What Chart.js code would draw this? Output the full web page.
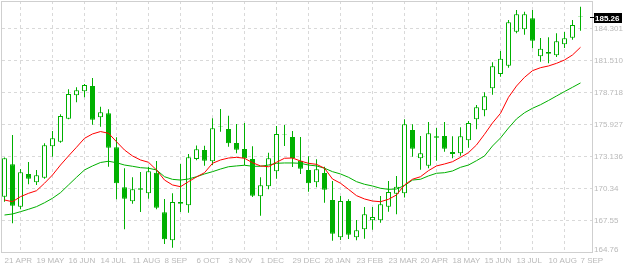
<!DOCTYPE html>
<html><head><meta charset="utf-8">
<script src="https://cdn.jsdelivr.net/npm/chart.js@4/dist/chart.umd.min.js"></script>
<style>html,body{margin:0;padding:0;background:#fff;overflow:hidden}canvas{display:block}</style>
</head><body>
<canvas id="c" width="624" height="266"></canvas>
<script>
// Weekly candles, index 0 = week of 21 APR ... index 72 = week of 7 SEP
const xTickWeeks  = [0,4,8,12,16,20,24,28,32,36,40,44,48,52,56,60,64,68,72];
const xTickLabels = ['21 APR','19 MAY','16 JUN','14 JUL','11 AUG','8 SEP','6 OCT','3 NOV','1 DEC','29 DEC','26 JAN','23 FEB','23 MAR','20 APR','18 MAY','15 JUN','13 JUL','10 AUG','7 SEP'];

const open = [169.59,172.41,168.72,171.57,170.84,171.25,173.98,174.38,176.39,178.43,
  178.78,179.24,176.51,176.86,173.90,170.41,169.19,170.32,169.88,171.68,
  168.23,165.78,169.12,168.84,172.88,173.66,172.68,175.69,175.49,174.27,
  173.75,172.88,169.62,170.50,171.80,174.99,174.80,172.73,171.92,170.84,
  171.65,169.30,166.05,169.21,166.05,166.74,167.53,167.53,168.72,169.85,
  169.88,175.41,172.94,172.29,174.86,174.88,173.49,173.37,174.51,176.34,
  177.12,179.04,180.29,181.01,183.98,184.19,185.15,181.83,182.21,181.92,
  182.88,183.46,185.31];
const high = [173.01,174.97,172.00,172.61,171.92,174.25,175.32,176.78,178.96,179.13,
  179.42,179.94,177.44,177.21,174.77,172.07,171.28,171.74,172.20,172.70,
  169.39,169.88,172.44,173.31,174.05,174.04,176.43,177.24,176.65,175.93,
  176.02,173.98,171.28,173.43,175.76,175.84,175.32,174.80,173.11,172.85,
  172.20,170.96,169.65,169.36,167.56,168.69,168.69,169.65,170.96,171.39,
  176.34,175.90,174.88,176.10,175.58,176.10,174.86,175.64,176.19,177.59,
  178.69,181.31,182.30,185.00,185.87,185.72,185.87,183.43,183.49,183.84,
  183.95,185.00,186.16];
const low = [169.15,167.27,168.49,170.67,170.61,171.16,173.08,174.30,176.34,177.82,
  178.26,175.87,175.69,172.20,169.36,166.74,168.98,168.25,169.41,168.49,
  165.46,165.14,168.25,168.19,172.76,172.29,172.35,175.26,173.95,173.37,
  172.35,169.56,167.93,170.23,171.16,174.01,172.18,171.57,170.02,170.41,
  169.06,165.75,165.81,165.90,165.78,165.92,166.71,167.32,168.28,168.05,
  169.52,173.08,171.94,172.07,172.73,173.51,172.94,173.16,173.86,175.47,
  176.60,178.48,180.05,180.84,183.84,183.72,182.53,181.36,181.22,181.77,
  182.56,183.28,184.07];
const close = [172.94,168.80,171.72,171.16,171.45,174.07,174.68,176.63,178.55,178.87,
  179.33,176.30,176.95,173.86,170.76,169.41,170.23,170.20,171.80,168.63,
  165.87,169.12,168.98,173.02,173.72,172.73,175.55,175.74,174.25,173.69,
  172.94,169.68,170.58,172.94,175.06,175.04,172.96,172.03,170.76,171.98,
  170.20,166.36,169.21,166.27,166.66,168.05,167.82,168.92,170.00,170.46,
  175.90,173.77,173.37,175.12,174.73,173.77,173.31,174.86,176.02,177.39,
  178.35,180.96,181.62,184.80,185.50,185.50,183.19,182.50,182.06,183.14,
  183.40,184.56,185.26];
const maFast = [169.30,169.15,169.59,169.88,170.11,170.76,171.48,172.35,173.14,173.90,
  174.68,175.06,175.27,175.12,174.38,173.66,173.14,172.79,172.59,171.92,
  171.04,170.61,170.46,170.90,171.31,171.68,172.50,172.79,172.96,173.02,
  172.94,172.55,172.27,172.20,172.59,172.94,172.96,172.70,172.50,172.41,
  172.07,171.13,170.76,170.23,169.68,169.39,169.21,169.15,169.36,169.74,
  170.61,171.11,171.33,171.86,172.27,172.44,172.64,173.02,173.43,174.10,
  175.03,176.02,176.86,178.26,179.24,180.00,180.58,180.84,180.99,181.22,
  181.51,181.95,182.62];
const maSlow = [167.99,168.08,168.28,168.49,168.72,169.06,169.45,169.94,170.61,171.28,
  171.92,172.27,172.57,172.68,172.55,172.35,172.24,172.12,172.07,171.92,
  171.33,171.10,171.04,171.13,171.33,171.57,171.77,172.00,172.20,172.27,
  172.33,172.24,172.24,172.35,172.50,172.53,172.53,172.50,172.35,172.27,
  172.07,171.77,171.57,171.28,170.90,170.67,170.52,170.32,170.23,170.26,
  170.56,171.04,171.11,171.40,171.63,171.68,171.83,172.15,172.35,172.73,
  173.14,174.01,174.71,175.58,176.37,176.91,177.30,177.61,177.98,178.37,
  178.76,179.13,179.51];
const yTickValues = [164.763,167.554,170.345,173.136,175.927,178.718,181.510,184.301];
const yTickLabels = ['164.76','167.55','170.34','173.136','175.927','178.718','181.510','184.301'];
const lastPriceLabel = '185.26';

const GREEN = '#00b000', RED = '#ff0000', GRID = '#d9d9d9', TEXT = '#b9b9b9';
const FONT = "'Liberation Sans',Arial,sans-serif";

const idx = close.map((_, i) => i);
const wickData = idx.map(i => ({x: i, y: [low[i], high[i]]}));
const bodyData = idx.map(i => ({x: i, y: [open[i], close[i]]}));
const bodyFill = idx.map(i => close[i] >= open[i] ? '#ffffff' : GREEN);

const framePlugin = {
  id: 'frame',
  beforeDraw(chart) {
    const {ctx, width, height} = chart;
    ctx.save(); ctx.fillStyle = '#fff'; ctx.fillRect(0, 0, width, height); ctx.restore();
  },
  afterDraw(chart) {
    const {ctx, chartArea: a, scales} = chart;
    ctx.save();
    ctx.strokeStyle = '#cfcfcf'; ctx.lineWidth = 1;
    ctx.strokeRect(a.left - 0.5, a.top + 0.5, a.right - a.left + 1, a.bottom - a.top);
    // y-axis labels (bottom one kept inside the frame like the original)
    ctx.fillStyle = TEXT;
    ctx.font = '8px ' + FONT;
    ctx.textBaseline = 'middle'; ctx.textAlign = 'left';
    yTickValues.forEach((v, i) => {
      const py = Math.min(scales.y.getPixelForValue(v), a.bottom - 3);
      ctx.fillText(yTickLabels[i], a.right + 2, py + 0.5);
    });
    const yv = scales.y.getPixelForValue(close[close.length - 1]);
    const yr = Math.round(yv);
    ctx.strokeStyle = '#000';
    ctx.beginPath(); ctx.moveTo(a.right - 2, yr + 0.5); ctx.lineTo(a.right + 2, yr + 0.5); ctx.stroke();
    ctx.fillStyle = '#000';
    ctx.fillRect(a.right + 2, yr - 4, 28, 10);
    ctx.fillStyle = '#fff';
    ctx.font = 'bold 8px ' + FONT;
    ctx.fillText(lastPriceLabel, a.right + 3, yr + 1.5);
    ctx.restore();
  }
};

new Chart(document.getElementById('c'), {
  type: 'bar',
  data: {
    datasets: [
      {type: 'line', label: 'MA fast', data: idx.map(i => ({x: i, y: maFast[i]})), borderColor: RED, borderWidth: 1, pointRadius: 0, tension: 0, order: 0},
      {type: 'line', label: 'MA slow', data: idx.map(i => ({x: i, y: maSlow[i]})), borderColor: GREEN, borderWidth: 1, pointRadius: 0, tension: 0, order: 1},
      {label: 'body', data: bodyData, backgroundColor: bodyFill, borderColor: GREEN, borderWidth: 1, borderSkipped: false, barThickness: 5, grouped: false, inflateAmount: 0, order: 2},
      {label: 'wick', data: wickData, backgroundColor: GREEN, borderWidth: 0, barThickness: 1, grouped: false, inflateAmount: 0, order: 3}
    ]
  },
  options: {
    responsive: false, animation: false, devicePixelRatio: 1,
    layout: {padding: {left: 2, top: 1, right: 0, bottom: 0}, autoPadding: false},
    plugins: {legend: {display: false}, tooltip: {enabled: false}},
    scales: {
      x: {
        type: 'linear', min: -0.3125, max: 73.4375, offset: false,
        afterBuildTicks: s => { s.ticks = xTickWeeks.map(v => ({value: v})); },
        afterFit: s => { s.height = 14; s.paddingLeft = 0; s.paddingRight = 0; },
        grid: {color: GRID, drawTicks: false},
        border: {display: false, dash: [3,3]},
        ticks: {
          autoSkip: false, maxRotation: 0, align: 'start', padding: 4, color: TEXT,
          font: {family: FONT, size: 8},
          callback: (v) => { const i = xTickWeeks.indexOf(v); return i >= 0 ? xTickLabels[i] : ''; }
        }
      },
      y: {
        type: 'linear', position: 'right', min: 164.763, max: 186.657,
        afterBuildTicks: s => { s.ticks = yTickValues.map(v => ({value: v})); },
        afterFit: s => { s.width = 32; s.paddingTop = 0; s.paddingBottom = 0; },
        grid: {color: GRID, drawTicks: false},
        border: {display: false, dash: [3,3]},
        ticks: {display: false}
      }
    }
  },
  plugins: [framePlugin]
});
</script>
</body></html>
